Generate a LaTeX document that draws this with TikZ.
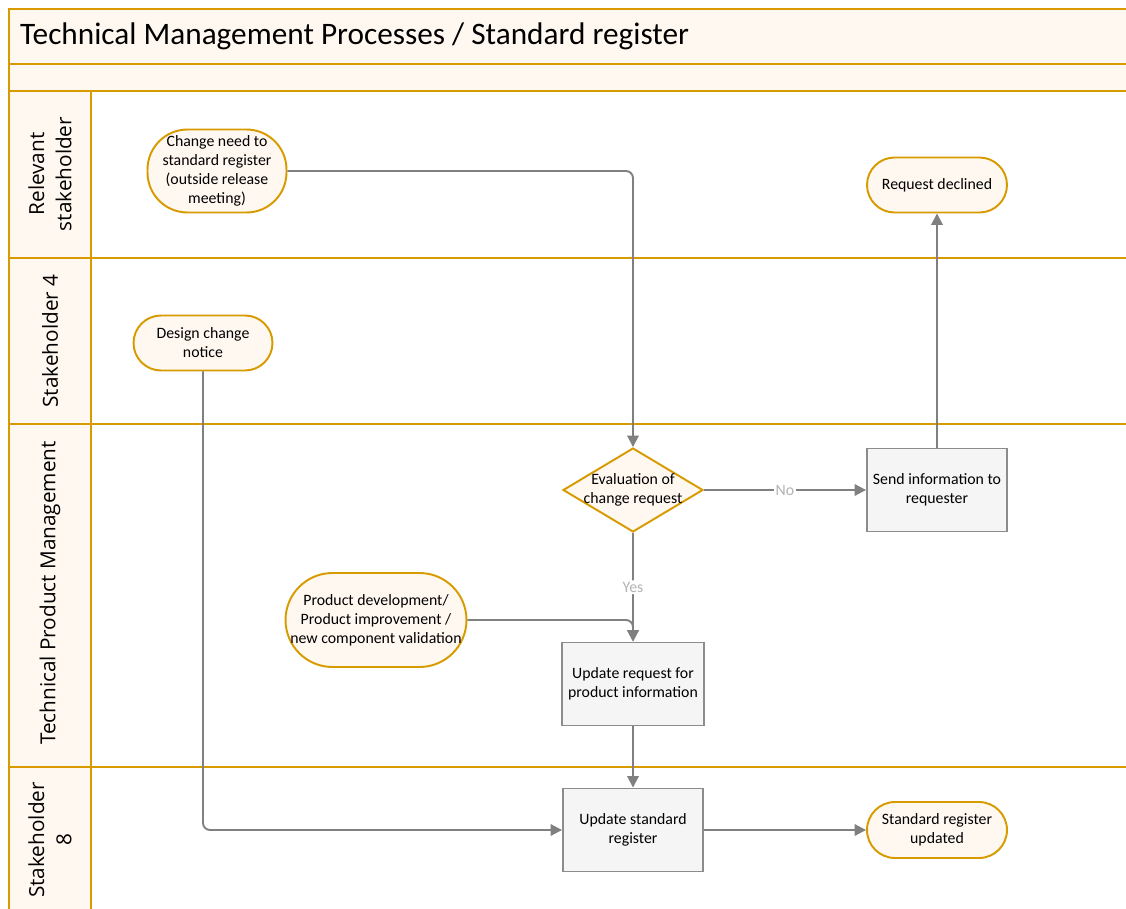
\documentclass[tikz,border=0pt]{standalone}
\usepackage{fontspec}
\setmainfont{Carlito}
\newfontfamily\lanefont{Open Sans}
\usetikzlibrary{arrows.meta, shapes.geometric}

\definecolor{laneline}{HTML}{D79B00}
\definecolor{lanefill}{HTML}{FFF8F0}
\definecolor{boxline}{HTML}{8C8C8C}
\definecolor{boxfill}{HTML}{F5F5F5}
\definecolor{flowline}{HTML}{808080}
\definecolor{answertext}{HTML}{B3B3B3}

\begin{document}
\begin{tikzpicture}[x=0.02cm, y=-0.02cm,
    band/.style = {draw=laneline, fill=lanefill, line width=1.5pt},
    lanebody/.style = {draw=laneline, fill=white, line width=1.5pt},
    lanetitle/.style = {rotate=90, align=center, font=\lanefont\fontsize{11.8}{15.5}\selectfont},
    term/.style = {draw=laneline, fill=lanefill, line width=1.1pt, align=center,
                   inner sep=1pt, font=\fontsize{9}{10.8}\selectfont},
    task/.style = {draw=boxline, fill=boxfill, line width=1.1pt, align=center,
                   minimum width=2.8cm, minimum height=1.66cm, font=\fontsize{9}{10.8}\selectfont},
    decision/.style = {diamond, draw=laneline, fill=lanefill, line width=1.1pt, aspect=1.67,
                       inner xsep=-0.4cm, inner ysep=-0.15cm, minimum width=2.8cm, minimum height=1.68cm,
                       align=center, font=\fontsize{9}{10.8}\selectfont},
    flow/.style = {draw=flowline, line width=1.1pt, rounded corners=4pt, -{Triangle[length=6.5pt, width=6.5pt]}},
    answer/.style = {fill=white, text=answertext, inner sep=1pt, font=\fontsize{9}{10}\selectfont}]

  \clip (0,0) rectangle (1126,909);
  \fill[white] (0,0) rectangle (1126,909);

  % pool header
  \draw[band] (9,9) rectangle (1140,64);
  \draw[band] (9,64) rectangle (1140,91);
  \node[anchor=west, font=\fontsize{17.8}{21}\selectfont] (title) at (14,36) {Technical Management Processes / Standard register};

  % swimlanes
  \foreach \top/\bot in {91/258, 258/424, 424/767, 767/915} {
    \draw[lanebody] (91,\top) rectangle (1140,\bot);
    \draw[band] (9,\top) rectangle (91,\bot);
  }
  \node[lanetitle] (rel) at (50,174) {Relevant\\stakeholder};
  \node[lanetitle] (sh4) at (50,341) {Stakeholder 4};
  \node[lanetitle] (tpm) at (50,593) {Technical Product Management};
  \node[lanetitle] (sh8) at (50,840) {Stakeholder\\8};

  % steps
  \node[term, minimum width=2.78cm, minimum height=1.66cm, rounded corners=0.8cm] (chg) at (217,171) {Change need to\\standard register\\(outside release\\meeting)};
  \node[term, minimum width=2.8cm, minimum height=1.1cm, rounded corners=0.55cm] (decl) at (937,185) {Request declined};
  \node[term, minimum width=2.78cm, minimum height=1.1cm, rounded corners=0.55cm] (dcn) at (203,343) {Design change\\notice};
  \node[decision] (eval) at (633,490) {Evaluation of\\change request};
  \node[task] (info) at (937,490) {Send information to\\requester};
  \node[term, minimum width=3.62cm, minimum height=1.88cm, rounded corners=0.94cm] (prod) at (376,620) {Product development/\\Product improvement /\\new component validation};
  \node[task] (upd) at (633,684) {Update request for\\product information};
  \node[task] (reg) at (633,830) {Update standard\\register};
  \node[term, minimum width=2.8cm, minimum height=1.12cm, rounded corners=0.56cm] (done) at (937,830) {Standard register\\updated};

  % flows
  \draw[flow] (chg.east) -| (eval.north);
  \draw[flow] (eval.east) -- node[answer] {No} (info.west);
  \draw[flow] (info.north) -- (decl.south);
  \draw[flow] (eval.south) -- node[answer] {Yes} (upd.north);
  \draw[flow] (prod.east) -| (upd.north);
  \draw[flow] (upd.south) -- (reg.north);
  \draw[flow] (dcn.south) |- (reg.west);
  \draw[flow] (reg.east) -- (done.west);
\end{tikzpicture}
\end{document}
